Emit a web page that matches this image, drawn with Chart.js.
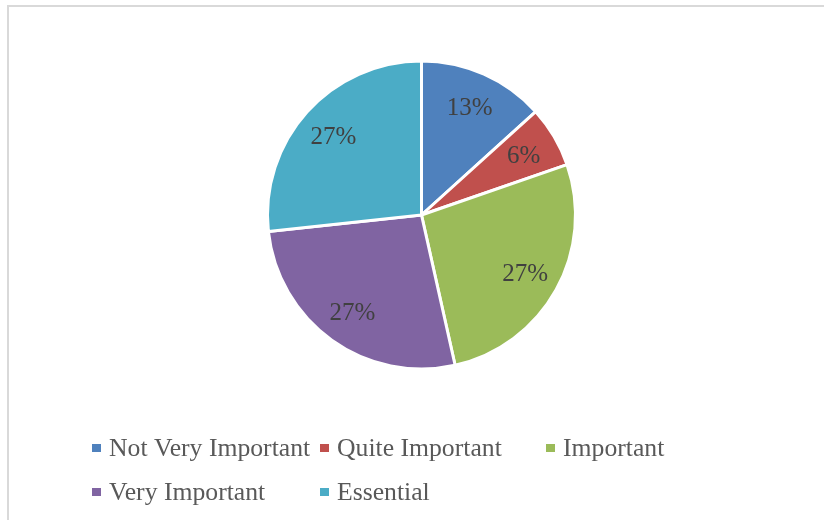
<!DOCTYPE html>
<html>
<head>
<meta charset="utf-8">
<script src="https://cdn.jsdelivr.net/npm/chart.js@4.4.0/dist/chart.umd.min.js"></script>
<style>
    html, body { margin: 0; padding: 0; background: #fff; }
    #wrap { position: relative; width: 824px; height: 520px; overflow: hidden; }
    #frame {
        position: absolute; left: 7px; top: 5px; width: 900px; height: 600px;
        border-left: 2px solid #d9d9d9; border-top: 2px solid #d9d9d9;
        pointer-events: none;
    }
</style>
</head>
<body>
<div id="wrap">
    <canvas id="pasta" width="824" height="520"></canvas>
    <div id="frame"></div>
</div>
<script>
const kategoriler = ['Not Very Important', 'Quite Important', 'Important', 'Very Important', 'Essential'];
const degerler = [13.3, 6.4, 26.8, 26.8, 26.7];
const renkler = ['#4F81BD', '#C0504D', '#9BBB59', '#8064A2', '#4BACC6'];

const YAZI = '"Liberation Serif", "Times New Roman", serif';

// dilim etiketleri (yuzde)
const etiketPlugin = {
    id: 'etiketler',
    afterDatasetsDraw(chart) {
        const ctx = chart.ctx;
        const meta = chart.getDatasetMeta(0);
        const toplam = degerler.reduce((a, b) => a + b, 0);
        ctx.save();
        ctx.font = '25px ' + YAZI;
        ctx.fillStyle = '#404040';
        ctx.textAlign = 'center';
        ctx.textBaseline = 'middle';
        meta.data.forEach((arc, i) => {
            const p = arc.getProps(['x', 'y', 'startAngle', 'endAngle', 'outerRadius'], true);
            const orta = (p.startAngle + p.endAngle) / 2;
            const r = p.outerRadius * 0.77;
            const yuzde = Math.round(degerler[i] / toplam * 100) + '%';
            ctx.fillText(yuzde, p.x + Math.cos(orta) * r, p.y + Math.sin(orta) * r + 2);
        });
        ctx.restore();
    }
};

// Excel tarzi izgara lejant
const lejantPlugin = {
    id: 'lejant',
    afterDraw(chart) {
        const ctx = chart.ctx;
        const sutunX = [92, 320, 546];
        const satirY = [448, 492];
        ctx.save();
        ctx.font = '25.7px ' + YAZI;
        ctx.textBaseline = 'middle';
        ctx.textAlign = 'left';
        kategoriler.forEach((ad, i) => {
            const x = sutunX[i % 3];
            const y = satirY[Math.floor(i / 3)];
            ctx.fillStyle = renkler[i];
            ctx.fillRect(x, y - 4, 9, 8);
            ctx.fillStyle = '#595959';
            ctx.fillText(ad, x + 17, y + 1);
        });
        ctx.restore();
    }
};

new Chart(document.getElementById('pasta').getContext('2d'), {
    type: 'pie',
    data: {
        labels: kategoriler,
        datasets: [{
            data: degerler,
            backgroundColor: renkler,
            borderColor: '#ffffff',
            borderWidth: 3,
            radius: 154
        }]
    },
    options: {
        responsive: false,
        animation: false,
        layout: { padding: { top: 60, bottom: 150, left: 266, right: 247 } },
        plugins: {
            legend: { display: false },
            tooltip: { enabled: false }
        }
    },
    plugins: [etiketPlugin, lejantPlugin]
});
</script>
</body>
</html>
